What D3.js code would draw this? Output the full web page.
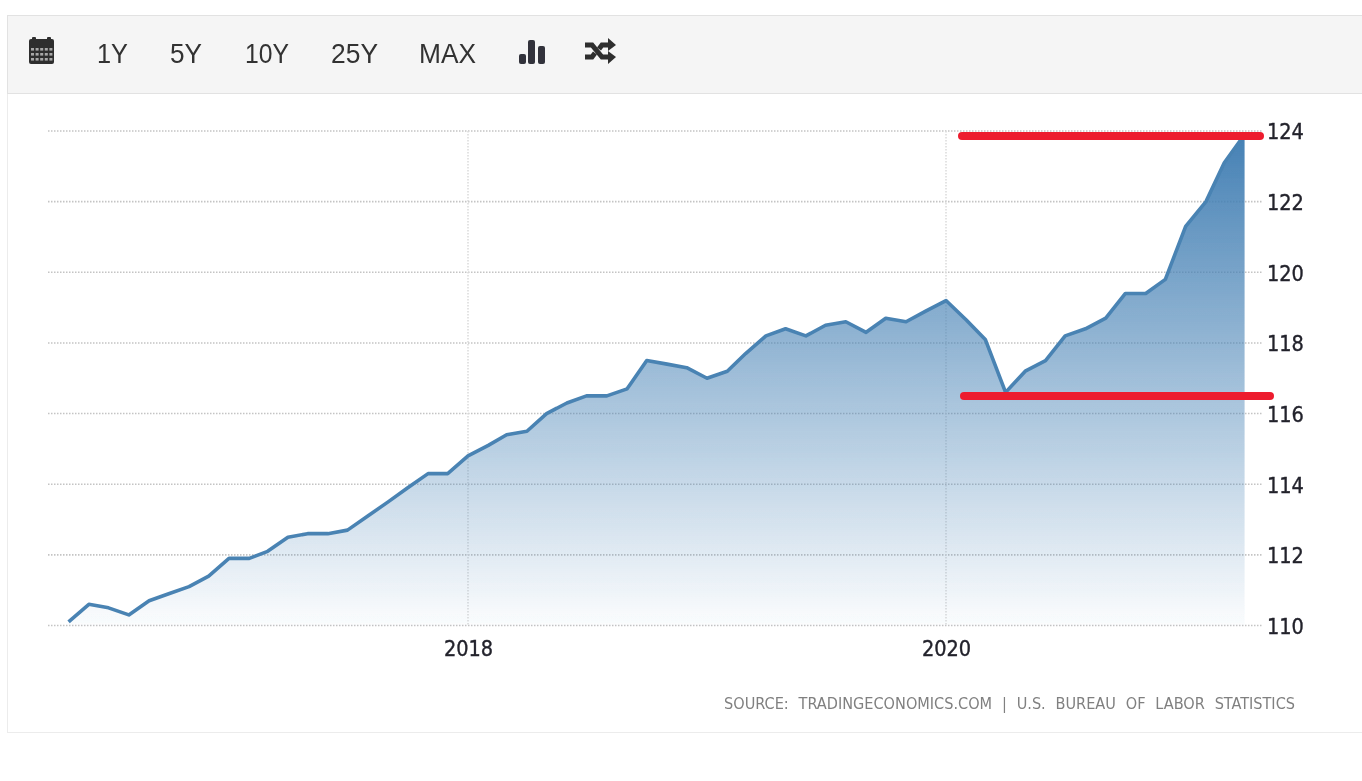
<!DOCTYPE html>
<html><head><meta charset="utf-8">
<style>
html,body{margin:0;padding:0;background:#fff;overflow:hidden}
svg{display:block}
</style>
<script src="https://cdn.jsdelivr.net/npm/d3@7"></script>
</head><body><svg id="c" width="1362" height="781"></svg>
<script>
const startMonth = "2016-05";
const values = [110.1,110.6,110.5,110.3,110.7,110.9,111.1,111.4,111.9,111.9,112.1,112.5,112.6,112.6,112.7,113.1,113.5,113.9,114.3,114.3,
114.8,115.1,115.4,115.5,116.0,116.3,116.5,116.5,116.7,117.5,117.4,117.3,117.0,117.2,117.7,118.2,118.4,118.2,118.5,118.6,118.3,118.7,118.6,118.9,
119.2,118.65,118.1,116.6,117.2,117.5,118.2,118.4,118.7,119.4,119.4,119.8,121.3,122.0,123.1,123.9];
const yTicks = [110,112,114,116,118,120,122,124];
const xTicks = ["2018-01","2020-01"];
const rangeButtons = ["1Y","5Y","10Y","25Y","MAX"];
const buttonX = [97,170,245,331,419];
const buttonW = [31,32,44,47,57];
const sourceText = "SOURCE: TRADINGECONOMICS.COM | U.S. BUREAU OF LABOR STATISTICS";
const redLevels = [{v:123.86,x0:962,x1:1260},{v:116.5,x0:964,x1:1270}];

const parse = d3.utcParse("%Y-%m");
const start = parse(startMonth);
const data = values.map((v,i)=>({date:d3.utcMonth.offset(start,i),v}));
const svg = d3.select("#c");

const x = d3.scaleUtc().domain([parse("2018-01"),parse("2020-01")]).range([468,946]);
const y = d3.scaleLinear().domain([110,124]).range([625.5,131]);

const defs = svg.append("defs");
const g = defs.append("linearGradient").attr("id","fill").attr("gradientUnits","userSpaceOnUse")
  .attr("x1",0).attr("x2",0).attr("y1",y(124)).attr("y2",y(110));
g.append("stop").attr("offset",0).attr("stop-color","#4480b4");
g.append("stop").attr("offset",1).attr("stop-color","#4480b4").attr("stop-opacity",0.02);
defs.append("filter").attr("id","soft").append("feGaussianBlur").attr("stdDeviation",0.5);

svg.append("rect").attr("x",7.5).attr("y",15.5).attr("width",1360).attr("height",717).attr("fill","#fff").attr("stroke","#ececec");
svg.append("rect").attr("x",7.5).attr("y",15.5).attr("width",1360).attr("height",78).attr("fill","#f5f5f5").attr("stroke","#e2e2e2");

const root = svg.append("g").attr("filter","url(#soft)");
const bar = root.append("g").attr("fill","#333");
bar.selectAll("text").data(rangeButtons).join("text")
  .attr("x",(d,i)=>buttonX[i]).attr("y",63)
  .attr("font-family","'Liberation Sans',Arial,sans-serif").attr("font-size",28.5).attr("fill","#333")
  .attr("textLength",(d,i)=>buttonW[i]).attr("lengthAdjust","spacingAndGlyphs")
  .text(d=>d);

// calendar icon
const cal = bar.append("g").attr("transform","translate(29,37)");
cal.append("rect").attr("y",2).attr("width",25).attr("height",25).attr("rx",2).attr("fill","#2e2e2e");
cal.selectAll(".peg").data([3,18]).join("rect").attr("class","peg").attr("x",d=>d).attr("y",0).attr("width",4).attr("height",5).attr("rx",1).attr("fill","#2e2e2e");
const cells=[];
[11,16,21].forEach(cy=>[2,6.6,11.2,15.8,20.4].forEach(cx=>cells.push([cx,cy])));
cal.selectAll(".cell").data(cells).join("rect").attr("class","cell").attr("x",d=>d[0]).attr("y",d=>d[1]).attr("width",3).attr("height",2.6).attr("fill","#a8a8a8");
// bars icon
const barsIcon = bar.append("g").attr("transform","translate(519,40)");
barsIcon.selectAll("rect").data([[0,14,10],[9,0,24],[19,6,18]]).join("rect")
  .attr("x",d=>d[0]).attr("y",d=>d[1]).attr("width",7).attr("height",d=>d[2]).attr("rx",2).attr("fill","#30323a");
// shuffle icon
const sh = bar.append("g").attr("transform","translate(585,39)").attr("fill","none").attr("stroke","#2e2e2e").attr("stroke-width",5);
sh.append("path").attr("d","M0,6 H7 L17,18 H25");
sh.append("path").attr("d","M0,18 H7 L10,14 M14,10 L17,6 H25");
sh.append("path").attr("d","M23,-1 L31,6 L23,12 Z M23,12 L31,18 L23,25 Z").attr("fill","#2e2e2e").attr("stroke","none");

// grid
const grid = root.append("g").attr("stroke","#c4c4c4").attr("stroke-width",1.6).attr("stroke-dasharray","1.5 1.5");
grid.selectAll(".h").data(yTicks).join("line").attr("class","h")
  .attr("x1",48).attr("x2",1263).attr("y1",d=>y(d)).attr("y2",d=>y(d));
grid.selectAll(".v").data(xTicks).join("line").attr("class","v").attr("stroke","#dcdcdc")
  .attr("x1",d=>x(parse(d))).attr("x2",d=>x(parse(d))).attr("y1",y(124)).attr("y2",y(110));

// area + line
const area = d3.area().x(d=>x(d.date)).y0(y(110)).y1(d=>y(d.v));
const line = d3.line().x(d=>x(d.date)).y(d=>y(d.v));
root.append("path").datum(data).attr("d",area).attr("fill","url(#fill)");
root.append("path").datum(data).attr("d",line).attr("fill","none").attr("stroke","#4a83b3").attr("stroke-width",3.6).attr("stroke-linejoin","round");

// axes
const tickFont = "'DejaVu Sans Condensed','DejaVu Sans',sans-serif";
const yAxis = root.append("g").attr("transform","translate(1267,1)")
  .call(d3.axisRight(y).tickValues(yTicks).tickSize(0).tickPadding(0).tickFormat(d3.format("d")));
yAxis.select(".domain").remove();
yAxis.selectAll("text").attr("font-family",tickFont).attr("font-size",21.5).attr("fill","#22222c").attr("stroke","#22222c").attr("stroke-width",0.35);
const xAxis = root.append("g").attr("transform","translate(0,636)")
  .call(d3.axisBottom(x).tickValues(xTicks.map(parse)).tickSize(0).tickPadding(0).tickFormat(d3.utcFormat("%Y")));
xAxis.select(".domain").remove();
xAxis.selectAll("text").attr("font-family",tickFont).attr("font-size",21.5).attr("fill","#22222c").attr("stroke","#22222c").attr("stroke-width",0.35).attr("dy","0.95em");

// source
root.append("text").attr("x",724).attr("y",709)
  .attr("font-family",tickFont).attr("font-size",15.5).attr("fill","#808080")
  .attr("word-spacing",5).attr("textLength",571).attr("lengthAdjust","spacingAndGlyphs").text(sourceText);

// red annotation bars
svg.append("g").selectAll("line").data(redLevels).join("line")
  .attr("x1",d=>d.x0).attr("x2",d=>d.x1).attr("y1",d=>y(d.v)).attr("y2",d=>y(d.v))
  .attr("stroke","#ed1c2e").attr("stroke-width",8).attr("stroke-linecap","round");
</script></body></html>
